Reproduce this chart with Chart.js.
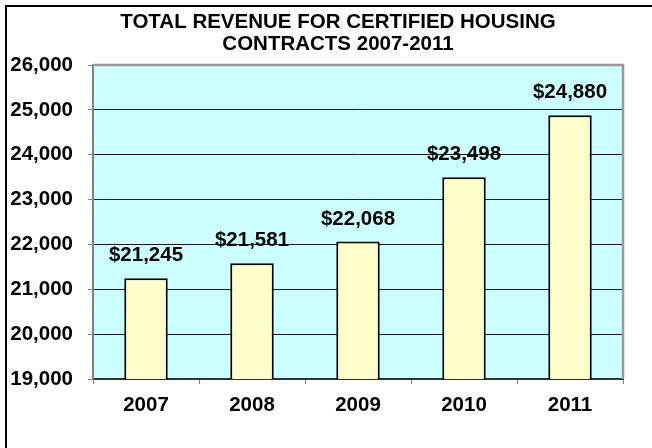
<!DOCTYPE html>
<html><head><meta charset="utf-8">
<script src="https://cdn.jsdelivr.net/npm/chart.js@4/dist/chart.umd.min.js"></script>
<style>html,body{margin:0;padding:0;background:#fff}canvas{display:block}</style>
</head><body>
<canvas id="c" width="652" height="448"></canvas>
<script>
const titleLines = ['TOTAL REVENUE FOR CERTIFIED HOUSING', 'CONTRACTS 2007-2011'];
const years = ['2007', '2008', '2009', '2010', '2011'];
const revenue = [21245, 21581, 22068, 23498, 24880];
const yMin = 19000;
const yMax = 26000;
const yStep = 1000;

const FONT = "'Liberation Sans', Arial, sans-serif";
const fmt = v => Number(v).toLocaleString('en-US');

const framePlugin = {
  id: 'frame',
  beforeDraw(chart) {
    const ctx = chart.ctx, a = chart.chartArea;
    ctx.save();
    ctx.fillStyle = '#fff';
    ctx.fillRect(0, 0, chart.width, chart.height);
    ctx.strokeStyle = '#000';
    ctx.lineWidth = 2;
    ctx.strokeRect(6, 6, chart.width + 20, chart.height + 20);
    ctx.fillStyle = '#CCFFFF';
    ctx.fillRect(a.left, a.top, a.right - a.left, a.bottom - a.top);
    ctx.fillStyle = '#000';
    ctx.font = 'bold 20.5px ' + FONT;
    ctx.textAlign = 'center';
    ctx.textBaseline = 'middle';
    ctx.fillText(titleLines[0], 338, 22);
    ctx.fillText(titleLines[1], 338, 44);
    ctx.restore();
  },
  afterDraw(chart) {
    const ctx = chart.ctx, a = chart.chartArea;
    ctx.save();
    ctx.strokeStyle = '#999999';
    ctx.lineWidth = 2.5;
    ctx.beginPath();
    ctx.moveTo(a.left, a.top);
    ctx.lineTo(a.right, a.top);
    ctx.lineTo(a.right, a.bottom);
    ctx.stroke();
    ctx.restore();
  },
  afterDatasetsDraw(chart) {
    const ctx = chart.ctx;
    const meta = chart.getDatasetMeta(0);
    ctx.save();
    ctx.fillStyle = '#000';
    ctx.font = 'bold 20.5px ' + FONT;
    ctx.textAlign = 'center';
    ctx.textBaseline = 'middle';
    meta.data.forEach((el, i) => {
      ctx.fillText('$' + fmt(revenue[i]), el.x, el.y - 22.5);
    });
    ctx.restore();
  }
};

new Chart(document.getElementById('c'), {
  type: 'bar',
  data: {
    labels: years,
    datasets: [{
      data: revenue,
      backgroundColor: '#FFFFCC',
      borderColor: '#000',
      borderWidth: 2,
      borderSkipped: false,
      categoryPercentage: 1,
      barPercentage: 0.41
    }]
  },
  options: {
    responsive: false,
    animation: false,
    layout: { padding: { left: 8, right: 29, top: 65, bottom: 0 } },
    plugins: { legend: { display: false }, title: { display: false }, tooltip: { enabled: false } },
    scales: {
      x: {
        offset: true,
        grid: { drawOnChartArea: false, drawTicks: true, tickLength: 5, tickColor: '#808080', offset: true },
        border: { display: true, color: '#333333', width: 2 },
        ticks: { color: '#000', font: { family: FONT, size: 20.5, weight: 'bold' }, padding: 9 },
        afterFit(s) { s.height = 69; }
      },
      y: {
        min: yMin,
        max: yMax,
        grid: {
          color: c => (c.tick && c.tick.value === yMax) ? 'rgba(0,0,0,0)' : '#1a1a1a',
          lineWidth: 1,
          drawTicks: true,
          tickLength: 5,
          tickColor: '#808080'
        },
        border: { display: true, color: '#7f7f7f', width: 2 },
        ticks: {
          stepSize: yStep,
          color: '#000',
          font: { family: FONT, size: 20.5, weight: 'bold' },
          padding: 15,
          callback: v => fmt(v)
        },
        afterFit(s) { s.width = 85; }
      }
    }
  },
  plugins: [framePlugin]
});
</script>
</body></html>
